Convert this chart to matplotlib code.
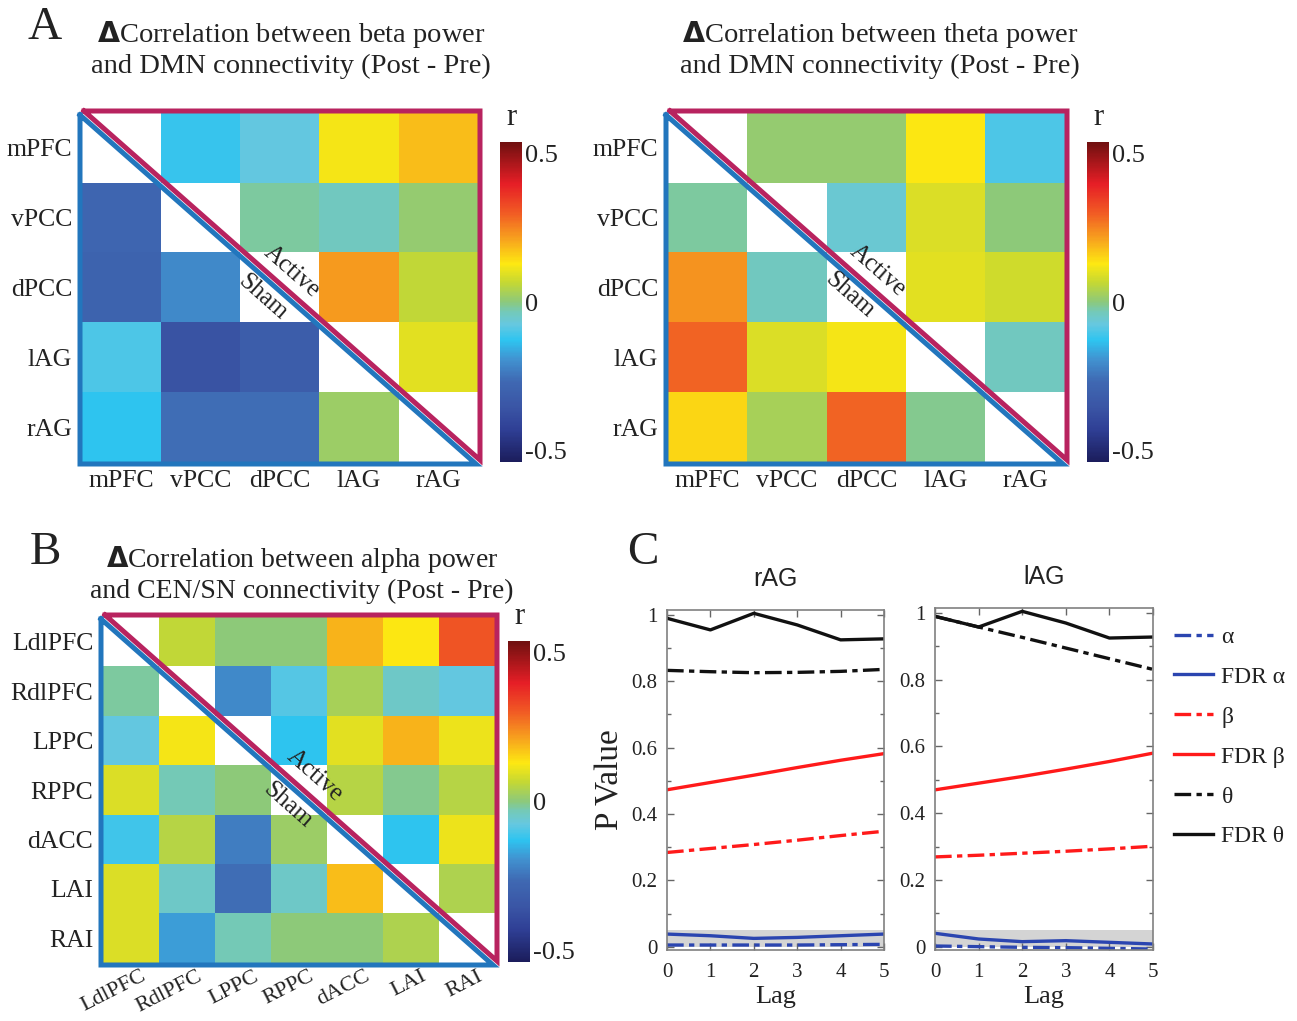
import numpy as np
import matplotlib
matplotlib.use('Agg')
import matplotlib.pyplot as plt
import matplotlib.transforms as mtransforms
from matplotlib.colors import LinearSegmentedColormap
from matplotlib.ticker import MultipleLocator

# heatmap data (upper triangle = Active, lower triangle = Sham)
nan = np.nan
dmn_labels = ['mPFC', 'vPCC', 'dPCC', 'lAG', 'rAG']
beta_r = [
    [nan, -0.12, -0.08, 0.12, 0.18],
    [-0.28, nan, -0.02, -0.04, 0.01],
    [-0.29, -0.21, nan, 0.22, 0.06],
    [-0.10, -0.36, -0.32, nan, 0.10],
    [-0.13, -0.26, -0.26, 0.02, nan],
]
theta_r = [
    [nan, 0.01, 0.01, 0.13, -0.10],
    [-0.02, nan, -0.06, 0.09, 0.00],
    [0.23, -0.04, nan, 0.10, 0.08],
    [0.29, 0.09, 0.12, nan, -0.04],
    [0.15, 0.03, 0.29, -0.01, nan],
]
cen_labels = ['LdlPFC', 'RdlPFC', 'LPPC', 'RPPC', 'dACC', 'LAI', 'RAI']
alpha_r = [
    [nan, 0.06, 0.00, 0.00, 0.19, 0.13, 0.31],
    [-0.02, nan, -0.21, -0.09, 0.03, -0.05, -0.08],
    [-0.08, 0.12, nan, -0.13, 0.10, 0.19, 0.11],
    [0.09, -0.03, 0.00, nan, 0.05, -0.01, 0.05],
    [-0.11, 0.05, -0.23, 0.02, nan, -0.13, 0.11],
    [0.09, -0.05, -0.26, -0.05, 0.18, nan, 0.04],
    [0.09, -0.18, -0.03, 0.00, 0.00, 0.04, nan],
]

# p values vs lag
lags = [0, 1, 2, 3, 4, 5]
rag_alpha = [0.005, 0.005, 0.005, 0.005, 0.006, 0.007]
rag_fdr_alpha = [0.038, 0.033, 0.025, 0.028, 0.033, 0.038]
rag_beta = [0.284, 0.296, 0.308, 0.321, 0.335, 0.348]
rag_fdr_beta = [0.473, 0.495, 0.517, 0.540, 0.562, 0.582]
rag_theta = [0.833, 0.829, 0.826, 0.827, 0.830, 0.836]
rag_fdr_theta = [0.99, 0.955, 1.005, 0.97, 0.925, 0.928]

lag_alpha = [0.002, 0.0, -0.002, -0.003, -0.005, -0.007]
lag_fdr_alpha = [0.040, 0.023, 0.015, 0.018, 0.013, 0.008]
lag_beta = [0.269, 0.274, 0.280, 0.286, 0.293, 0.301]
lag_fdr_beta = [0.470, 0.490, 0.510, 0.532, 0.555, 0.580]
lag_theta = [0.99, 0.958, 0.927, 0.895, 0.863, 0.831]
lag_fdr_theta = [0.99, 0.958, 1.005, 0.97, 0.925, 0.928]

plt.rcParams['font.family'] = ['Liberation Serif', 'DejaVu Serif']
TXT = '#222222'
RMAX = 0.54

cmap = LinearSegmentedColormap.from_list('r_map', [
    (0.00, '#1b1d5c'), (0.10, '#2f3f95'), (0.17, '#3a55a5'), (0.25, '#3f68b2'),
    (0.32, '#4192d0'), (0.38, '#2ec4f0'), (0.43, '#66c8e0'), (0.47, '#74c9b8'),
    (0.50, '#8cc97c'), (0.56, '#c4d834'), (0.62, '#fde812'), (0.70, '#f7a01e'),
    (0.78, '#f15a24'), (0.87, '#e61e26'), (1.00, '#701010')])

W, H = 1297, 1021
fig = plt.figure(figsize=(W / 100, H / 100), dpi=100)


def box(x0, y0, x1, y1):
    return [x0 / W, 1 - y1 / H, (x1 - x0) / W, (y1 - y0) / H]


def heatmap(rect, cbrect, data, labels, act, sham, rotate=False):
    ax = fig.add_axes(box(*rect))
    ax.imshow(np.array(data, dtype=float), cmap=cmap, vmin=-RMAX, vmax=RMAX,
              aspect='auto', interpolation='nearest')
    n = len(labels)
    ax.set_xticks(range(n))
    ax.set_yticks(range(n))
    ax.set_yticklabels(labels, fontsize=18.5, color=TXT)
    if rotate:
        # slanted column labels drawn as plain text below the box
        ax.set_xticklabels([])
        lab_tr = mtransforms.offset_copy(ax.get_xaxis_transform(), fig=fig,
                                         x=10, y=-4, units='dots')
        for i, lab in enumerate(labels):
            ax.text(i, 0, lab, transform=lab_tr, rotation=27, ha='right', va='top',
                    rotation_mode='anchor', fontsize=16, color=TXT)
    else:
        ax.set_xticklabels(labels, fontsize=18.5, color=TXT)
        ax.tick_params(axis='x', pad=6)
    ax.tick_params(length=0)
    ax.tick_params(axis='y', pad=7)
    for s in ax.spines.values():
        s.set_visible(False)
    # active / sham triangles
    up = mtransforms.offset_copy(ax.transAxes, fig=fig, x=2, y=2, units='dots')
    lo = mtransforms.offset_copy(ax.transAxes, fig=fig, x=-2, y=-2, units='dots')
    ax.plot([0, 1, 1, 0], [1, 1, 0, 1], color='#b8235f', lw=3.6,
            transform=up, clip_on=False, solid_joinstyle='miter')
    ax.plot([0, 0, 1, 0], [1, 0, 0, 1], color='#2276bd', lw=3.6,
            transform=lo, clip_on=False, solid_joinstyle='miter')
    wpx = rect[2] - rect[0]
    hpx = rect[3] - rect[1]
    ang = -np.degrees(np.arctan(hpx / wpx))
    ax.text(act[0], act[1], 'Active', transform=ax.transAxes, rotation=ang,
            rotation_mode='anchor', ha='center', va='center', fontsize=18, color=TXT)
    ax.text(sham[0], sham[1], 'Sham', transform=ax.transAxes, rotation=ang,
            rotation_mode='anchor', ha='center', va='center', fontsize=18, color=TXT)
    # colorbar
    cax = fig.add_axes(box(*cbrect))
    sm = plt.cm.ScalarMappable(cmap=cmap, norm=plt.Normalize(-RMAX, RMAX))
    cb = fig.colorbar(sm, cax=cax, ticks=[-0.5, 0, 0.5])
    cb.ax.set_yticklabels(['-0.5', '0', '0.5'], fontsize=19, color=TXT)
    cb.ax.tick_params(length=0, pad=2)
    cb.outline.set_visible(False)
    cax.text(0.5, 1.03, 'r', transform=cax.transAxes, ha='center', va='bottom',
             fontsize=22, color=TXT)
    return ax


heatmap((82, 113, 478, 462), (500, 142, 522, 462), beta_r, dmn_labels,
        (0.53, 0.547), (0.457, 0.473))
heatmap((668, 113, 1065, 462), (1087, 142, 1109, 462), theta_r, dmn_labels,
        (0.529, 0.55), (0.458, 0.479))
heatmap((103, 617, 495, 963), (508, 641, 530, 962), alpha_r, cen_labels,
        (0.541, 0.543), (0.472, 0.457), rotate=True)

# titles and panel letters
fig.text(291 / W, 1 - 49 / H,
         r'$\mathbf{\Delta}$Correlation between beta power' + '\nand DMN connectivity (Post - Pre)',
         ha='center', va='center', fontsize=20.5, color=TXT, linespacing=1.15)
fig.text(880 / W, 1 - 49 / H,
         r'$\mathbf{\Delta}$Correlation between theta power' + '\nand DMN connectivity (Post - Pre)',
         ha='center', va='center', fontsize=20.5, color=TXT, linespacing=1.15)
fig.text(302 / W, 1 - 574 / H,
         r'$\mathbf{\Delta}$Correlation between alpha power' + '\nand CEN/SN connectivity (Post - Pre)',
         ha='center', va='center', fontsize=20, color=TXT, linespacing=1.15)
for letter, x, y in [('A', 45, 28), ('B', 45, 553), ('C', 643, 553)]:
    fig.text(x / W, 1 - y / H, letter, ha='center', va='center', fontsize=34, color=TXT)

# p value line plots
dd = (0, (5, 1.6, 1.6, 1.6))
blue, red, black = '#2b45b0', '#ff1a1a', '#111111'


def lagplot(rect, title, a, fa, b, fb, t, ft, ylabel=False):
    ax = fig.add_axes(box(*rect))
    ax.axhspan(0, 0.05, color='#d4d4d4', lw=0)
    h1, = ax.plot(lags, a, color=blue, lw=2.4, ls=dd)
    h2, = ax.plot(lags, fa, color=blue, lw=2.4)
    h3, = ax.plot(lags, b, color=red, lw=2.4, ls=dd)
    h4, = ax.plot(lags, fb, color=red, lw=2.4)
    h5, = ax.plot(lags, t, color=black, lw=2.4, ls=dd)
    h6, = ax.plot(lags, ft, color=black, lw=2.4)
    ax.set_xlim(0, 5)
    ax.set_ylim(-0.01, 1.015)
    ax.set_xticks(lags)
    ax.set_yticks([0, 0.2, 0.4, 0.6, 0.8, 1])
    ax.set_yticklabels(['0', '0.2', '0.4', '0.6', '0.8', '1'])
    ax.yaxis.set_minor_locator(MultipleLocator(0.1))
    ax.tick_params(which='both', direction='in', top=True, right=True,
                   labelsize=15, labelcolor=TXT, color='#666666', width=1)
    ax.tick_params(which='major', length=5)
    ax.tick_params(which='minor', length=3)
    ax.tick_params(axis='y', pad=7)
    ax.tick_params(axis='x', pad=9)
    for s in ax.spines.values():
        s.set_color('#808080')
        s.set_linewidth(1.2)
    ax.set_xlabel('Lag', fontsize=19, color=TXT, labelpad=3)
    if ylabel:
        ax.set_ylabel('P Value', fontsize=24, color=TXT, labelpad=4)
    ax.set_title(title, fontsize=18, family='Liberation Sans', color=TXT, pad=17)
    return ax, [h1, h2, h3, h4, h5, h6]


lagplot((667, 610, 884, 950), 'rAG', rag_alpha, rag_fdr_alpha, rag_beta,
        rag_fdr_beta, rag_theta, rag_fdr_theta, ylabel=True)
ax2, hs = lagplot((935, 608, 1153, 950), 'lAG', lag_alpha, lag_fdr_alpha, lag_beta,
                  lag_fdr_beta, lag_theta, lag_fdr_theta)
fig.legend(hs, ['α', 'FDR α', 'β', 'FDR β', 'θ', 'FDR θ'],
           loc='upper left', bbox_to_anchor=(1153 / W, 1 - 605 / H),
           frameon=False, fontsize=17, handlelength=1.65, handletextpad=0.35,
           labelspacing=0.78, labelcolor=TXT)

fig.savefig('out.png', dpi=100)
